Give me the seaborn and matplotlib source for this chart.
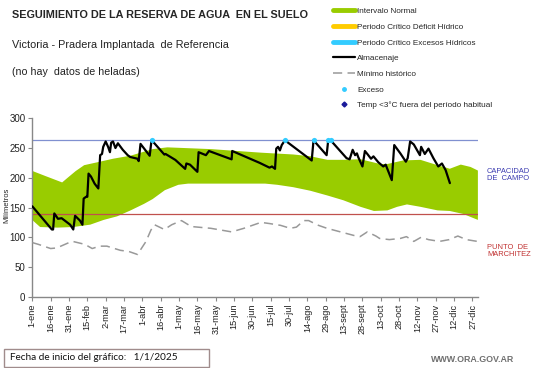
import matplotlib
matplotlib.use("Agg")
import matplotlib.pyplot as plt
import seaborn as sns
import pandas as pd
from matplotlib.lines import Line2D
from matplotlib.patches import Rectangle

sns.set_style("ticks")
plt.rcParams['font.family'] = ['Liberation Sans', 'DejaVu Sans']

# ---------------- data ----------------
tick_labels = ["1-ene", "16-ene", "31-ene", "15-feb", "2-mar", "17-mar", "1-abr", "16-abr",
               "1-may", "16-may", "31-may", "15-jun", "30-jun", "15-jul", "30-jul", "14-ago",
               "29-ago", "13-sept", "28-sept", "13-oct", "28-oct", "12-nov", "27-nov",
               "12-dic", "27-dic"]
tick_days = [15 * i for i in range(len(tick_labels))]

band_upper_days = [0, 10, 24, 28, 35, 42, 53, 66, 80, 98, 110, 146, 173, 187, 213, 227, 241,
                   254, 268, 284, 290, 303, 317, 331, 341, 350, 358, 364]
band_upper_vals = [212, 204, 193, 200, 212, 222, 227, 233, 238, 249, 252, 249, 245, 243, 240,
                   237, 231, 231, 232, 224, 224, 230, 231, 222, 216, 223, 219, 213]

band_lower_days = [0, 6, 20, 33, 47, 58, 69, 80, 91, 98, 108, 119, 127, 146, 173, 190, 200,
                   213, 227, 241, 254, 268, 279, 290, 298, 306, 317, 331, 341, 352, 364]
band_lower_vals = [129, 118, 117, 118, 122, 130, 136, 146, 157, 165, 180, 189, 191, 191, 191,
                   191, 189, 185, 179, 171, 163, 152, 145, 146, 152, 156, 152, 146, 145, 140, 130]

alm_days = [0, 16, 17, 18, 21, 24, 31, 33.5, 35, 39, 41, 42, 44, 45, 46, 48, 51, 54, 55.5, 57,
            58, 60, 62, 63.5, 64.5, 66, 68, 70, 74, 78, 80, 84, 86, 87, 88.5, 96, 97.5, 99,
            108, 109, 117, 125, 126, 129, 135, 136, 142, 144.5, 163, 163.5, 186, 194, 196,
            198.5, 199.5, 201, 202.5, 204, 206.6, 228.5, 230, 240.7, 242, 244, 257, 259.5,
            262, 264, 265.5, 266.5, 270, 272, 274, 277, 279, 283, 287, 289, 294, 296, 301,
            305.5, 307, 309, 312, 317, 318, 321, 324, 328, 332, 335, 338, 341.5]
alm_vals = [152, 113, 113, 140, 131, 132, 121, 113, 136, 128, 121, 165, 168, 168, 207, 202,
            190, 182, 238, 240, 252, 261, 252, 243, 259, 261, 250, 258, 247, 238, 235, 233,
            232, 228, 257, 237, 263, 260, 239, 240, 230, 215, 224, 222, 210, 243, 238, 245,
            231, 245, 225, 217, 219, 215, 249, 252, 246, 255, 263, 229, 263, 238, 263, 263,
            233, 231, 247, 238, 241, 235, 219, 245, 240, 232, 236, 226, 219, 222, 196, 255,
            241, 227, 233, 261, 256, 238, 252, 240, 249, 233, 219, 224, 213, 191]

min_days = [0, 5, 15, 20, 30, 33, 43, 49, 55, 61, 72, 79, 86, 93, 97, 100, 108, 114, 122,
            130, 146, 163, 173, 187, 194, 203, 211, 216, 222, 226, 234, 241, 252, 263, 268,
            274, 281, 284, 292, 301, 306, 312, 318, 324, 333, 341, 348, 355, 364]
min_vals = [91, 88, 81, 82, 91, 93, 88, 81, 85, 85, 78, 76, 71, 93, 112, 121, 113, 121, 128,
            118, 115, 109, 115, 125, 123, 120, 115, 117, 128, 128, 120, 115, 109, 103, 101,
            109, 102, 98, 96, 98, 101, 93, 100, 96, 93, 96, 102, 96, 93]

exceso_days = [97.5, 206.6, 230, 241.5, 244]
exceso_vals = [263, 263, 263, 263, 263]

capacidad_campo = 263
punto_marchitez = 139

# ---------------- colours ----------------
GREEN = "#99cc00"
YELLOW = "#ffcc00"
CYAN = "#33ccff"
BLUE_LINE = "#8090d0"
RED_LINE = "#c0504d"
GRAY_DASH = "#999999"

W, H = 541, 368
fig = plt.figure(figsize=(W / 100, H / 100), dpi=100)
ax = fig.add_axes([32.3 / W, 1 - 296.7 / H, (478 - 32.3) / W, (296.7 - 118.3) / H])

upper = pd.Series(band_upper_vals, index=band_upper_days)
lower = pd.Series(band_lower_vals, index=band_lower_days)
# common grid of the measured vertices of both edges
grid = sorted(set(band_upper_days) | set(band_lower_days))
up_g = upper.reindex(grid).interpolate(method="index")
lo_g = lower.reindex(grid).interpolate(method="index")
ax.fill_between(grid, lo_g.values, up_g.values, color=GREEN, linewidth=0, zorder=1)

ax.axhline(capacidad_campo, color=BLUE_LINE, lw=0.9, zorder=2)
ax.axhline(punto_marchitez, color=RED_LINE, lw=0.9, zorder=2)

df_min = pd.DataFrame({"dia": min_days, "mm": min_vals})
sns.lineplot(data=df_min, x="dia", y="mm", ax=ax, color=GRAY_DASH, lw=1.1,
             dashes=False, zorder=3, estimator=None, sort=False)
ax.lines[-1].set_dashes([6, 3.5])

df_alm = pd.DataFrame({"dia": alm_days, "mm": alm_vals})
sns.lineplot(data=df_alm, x="dia", y="mm", ax=ax, color="black", lw=1.6, zorder=4,
             estimator=None, sort=False)

df_exc = pd.DataFrame({"dia": exceso_days, "mm": exceso_vals})
sns.scatterplot(data=df_exc, x="dia", y="mm", ax=ax, color=CYAN, s=14, linewidth=0, zorder=5)

ax.set_xlim(0, 364.5)
ax.set_ylim(0, 300)
ax.set_yticks([0, 50, 100, 150, 200, 250, 300])
ax.set_xticks(tick_days)
ax.set_xticklabels(tick_labels, rotation=90, fontsize=6.6, color="#222222")
ax.tick_params(axis="y", labelsize=7, colors="#222222", length=3, color="#888888", pad=2)
ax.tick_params(axis="x", length=3, color="#888888", pad=2)
for s in ["top", "right"]:
    ax.spines[s].set_visible(False)
for s in ["left", "bottom"]:
    ax.spines[s].set_color("#888888")
    ax.spines[s].set_linewidth(1.0)
ax.set_xlabel("")
ax.set_ylabel("Milímetros", fontsize=5.5)
ax.yaxis.set_label_coords(-0.05, 0.51)

# titles
fig.text(12 / W, 1 - 15 / H, "SEGUIMIENTO DE LA RESERVA DE AGUA  EN EL SUELO",
         fontsize=7.85, fontweight="bold", va="center", ha="left")
fig.text(12 / W, 1 - 45 / H, "Victoria - Pradera Implantada  de Referencia",
         fontsize=7.8, va="center", ha="left", color="#222222")
fig.text(12 / W, 1 - 72 / H, "(no hay  datos de heladas)",
         fontsize=7.7, va="center", ha="left", color="#222222")

# right labels
fig.text(487 / W, 1 - 175 / H, "CAPACIDAD\nDE  CAMPO", fontsize=5.4, color="#3a3ab0",
         va="center", ha="left", linespacing=1.15)
fig.text(487 / W, 1 - 251 / H, "PUNTO  DE\nMARCHITEZ", fontsize=5.4, color="#c03030",
         va="center", ha="left", linespacing=1.15)

# legend
handles = [
    Line2D([], [], color=GREEN, lw=3.5),
    Line2D([], [], color=YELLOW, lw=3.5),
    Line2D([], [], color=CYAN, lw=3.5),
    Line2D([], [], color="black", lw=1.6),
    Line2D([], [], color=GRAY_DASH, lw=1.1, dashes=[6, 3.5]),
    Line2D([], [], color=CYAN, lw=0, marker="o", markersize=2.5),
    Line2D([], [], color="#1a1a9a", lw=0, marker="D", markersize=2.5),
]
labels = ["Intervalo Normal", "Periodo Crítico Déficit Hídrico",
          "Periodo Crítico Excesos Hídricos", "Almacenaje", "Mínimo histórico",
          "Exceso", "Temp <3°C fuera del período habitual"]
fig.legend(handles, labels, loc="upper left", bbox_to_anchor=(331 / W, 1 - 6 / H),
           frameon=False, fontsize=5.85, handlelength=2.7, handletextpad=0.3,
           labelspacing=0.98, borderaxespad=0, borderpad=0.2)

# footer
fig.patches.append(Rectangle((4 / W, 1 - 367 / H), 205 / W, 18 / H, transform=fig.transFigure,
                             fill=False, edgecolor="#a08c8c", lw=1.0))
fig.text(10 / W, 1 - 358 / H, "Fecha de inicio del gráfico:   1/1/2025", fontsize=7.2,
         va="center", ha="left", family=["Lato", "DejaVu Sans"], color="#111111")
fig.text(514 / W, 1 - 360 / H, "WWW.ORA.GOV.AR", fontsize=6.4, fontweight="bold",
         va="center", ha="right", color="#707070")

fig.savefig("out.png", dpi=100)
